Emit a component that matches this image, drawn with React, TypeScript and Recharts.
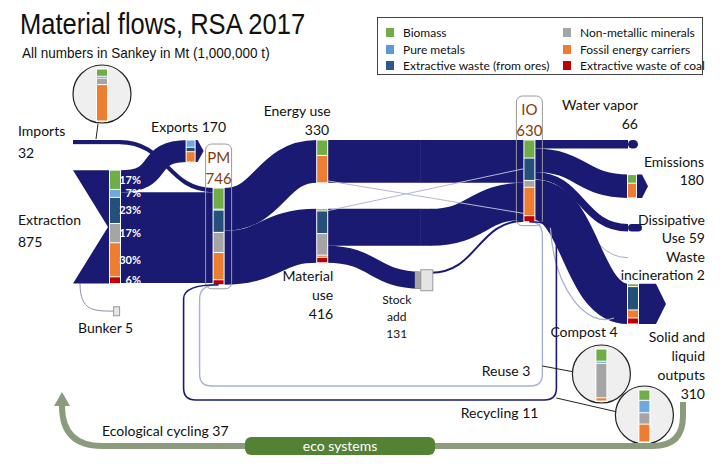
import React from 'react';
import { Sankey } from 'recharts';

// nodes of the Sankey, values in Mt ('' = pass-through of a flow)
const nodeNames = [
  'Imports',
  'Extraction',
  'Exports',
  'PM',
  'Bunker',
  'Energy use',
  'Material use',
  '',
  '',
  'Stock add',
  'IO',
  'Water vapor',
  'Emissions',
  'Dissipative Use',
  'Waste incineration',
  'Solid and liquid outputs',
];
const nodeValues = [32, 875, 170, 746, 5, 330, 416, 330, 285, 131, 630, 66, 180, 59, 2, 310];

// flows (source index -> target index)
const linkSources = [0, 1, 1, 1, 3, 3, 5, 7, 6, 6, 8, 9, 10, 10, 10, 10, 10];
const linkTargets = [3, 2, 3, 4, 5, 6, 7, 10, 8, 9, 10, 10, 11, 12, 13, 14, 15];
const linkValues = [32, 170, 700, 5, 330, 416, 330, 330, 285, 131, 285, 15, 66, 180, 59, 2, 310];

// flows drawn as loops (not part of the Sankey layout)
const loopNames = ['Reuse', 'Recycling', 'Ecological cycling', 'Compost'];
const loopValues = [3, 11, 37, 4];

const categories = [
  'Biomass',
  'Pure metals',
  'Extractive waste (from ores)',
  'Non-metallic minerals',
  'Fossil energy carriers',
  'Extractive waste of coal',
];

// composition shares in %, same order as categories
const compImports = [14, 4, 1, 11, 70, 0];
const compExtraction = [17, 7, 23, 17, 30, 6];
const compExports = [0, 33, 20, 0, 47, 0];
const compPM = [21, 1, 22, 20, 27, 5];
const compEnergyUse = [36, 0, 0, 0, 64, 0];
const compMaterialUse = [4, 0, 42, 40, 4, 10];
const compIO = [21, 0, 26, 8, 33, 7];
const compEmissions = [37, 0, 0, 0, 63, 0];
const compSolidOutputs = [7, 0, 58, 0, 20, 15];
const compReuse = [23, 4, 0, 65, 6, 0];
const compRecycling = [19, 23, 0, 21, 33, 0];

const NAVY = '#1b1a72';
const BROWN = '#843c0c';
const FONT = 'Lato, "Open Sans", sans-serif';
const CAT_COLORS = ['#70ad47', '#6fa8dc', '#24507a', '#a5a5a5', '#ed7d31', '#c00000'];
const LEGEND_COLORS = ['#70ad47', '#5b9bd5', '#2f5597', '#a5a5a5', '#ed7d31', '#c00000'];

const sankeyData = {
  nodes: nodeNames.map((name, i) => ({ name, total: nodeValues[i] })),
  links: linkSources.map((s, i) => ({ source: s, target: linkTargets[i], value: linkValues[i] })),
};

// node positions captured while rendering, used for the loops and insets
const pos: Record<string, { x: number; y: number; w: number; h: number }> = {};

function StackBar({ x, y, w, h, comp }: { x: number; y: number; w: number; h: number; comp: number[] }) {
  const total = comp.reduce((a, b) => a + b, 0);
  let cy = y;
  const rects: React.ReactNode[] = [];
  comp.forEach((v, i) => {
    if (v <= 0) return;
    const sh = (v / total) * h;
    rects.push(
      <rect key={i} x={x} y={cy + 0.5} width={w} height={Math.max(sh - 1, 0.6)} fill={CAT_COLORS[i]} />
    );
    cy += sh;
  });
  return (
    <g>
      <rect x={x - 1} y={y - 1} width={w + 2} height={h + 2} fill="#fff" />
      {rects}
    </g>
  );
}

function Label({
  x,
  y,
  lines,
  anchor = 'start',
  size = 14,
  color = '#111',
  lh = 19,
}: {
  x: number;
  y: number;
  lines: string[];
  anchor?: 'start' | 'middle' | 'end';
  size?: number;
  color?: string;
  lh?: number;
}) {
  return (
    <text x={x} y={y} textAnchor={anchor} fontFamily={FONT} fontSize={size} fill={color}>
      {lines.map((l, i) => (
        <tspan key={i} x={x} dy={i === 0 ? 0 : lh}>
          {l}
        </tspan>
      ))}
    </text>
  );
}

function Inset({ cx, cy, comp }: { cx: number; cy: number; comp: number[] }) {
  return (
    <g>
      <circle cx={cx} cy={cy} r={29} fill="#efefef" stroke="#222" strokeWidth={1.2} />
      <StackBar x={cx - 5} y={cy - 25} w={10} h={52} comp={comp} />
    </g>
  );
}

function Decorations() {
  const pm = pos['PM'];
  const io = pos['IO'];
  const st = pos['Stock add'];
  const ex = pos['Extraction'];
  const so = pos['Solid and liquid outputs'];
  const en = pos['Energy use'];
  const ma = pos['Material use'];
  if (!pm || !io || !st || !ex || !so || !en || !ma) return null;
  const pmB = pm.y + pm.h;
  const ioB = io.y + io.h;
  const soB = so.y + so.h;
  const R = io.x + io.w + 22;
  const Y = Math.max(st.y + st.h + 30, 400);
  const L = pm.x - 30;
  const loop = (r: number, yb: number, l: number) =>
    `M${io.x + io.w / 2},${ioB} Q${r},${ioB} ${r},${ioB + 14} L${r},${yb - 12} Q${r},${yb} ${r - 12},${yb} ` +
    `L${l + 12},${yb} Q${l},${yb} ${l},${yb - 12} L${l},${pmB + 14} Q${l},${pmB} ${pm.x + pm.w / 2},${pmB}`;
  const ecoY = 446;
  const ecoR = so.x + 55;
  const ecoL = ex.x - 48;
  const c0x = io.x + io.w + 16;
  return (
    <g>
      {/* thin cross flows between the use blocks and IO */}
      <line x1={en.x + en.w} y1={en.y + en.h - 2} x2={io.x} y2={io.y + io.h * 0.9} stroke="#b3b8d4" strokeWidth={1} />
      <line x1={ma.x + ma.w} y1={ma.y + 2} x2={io.x} y2={io.y + io.h * 0.35} stroke="#b3b8d4" strokeWidth={1} />
      {/* compost: small loop under the outflow */}
      <path
        d={`M${c0x},${ioB + 6} C${c0x + 4},${ioB + 70} ${so.x - 40},${soB + 4} ${so.x - 14},${soB - 6}`}
        fill="none"
        stroke="#a6adc8"
        strokeWidth={1.2}
      />
      <Label x={so.x - 44} y={soB + 13} lines={[`${loopNames[3]} ${loopValues[3]}`]} anchor="middle" />
      <path d={loop(R - 14, Y - 14, L + 16)} fill="none" stroke="#a9b3cf" strokeWidth={1.4} />
      <path d={loop(R, Y, L)} fill="none" stroke={NAVY} strokeWidth={1.6} />
      <Label x={R - 26} y={Y - 24} lines={[`${loopNames[0]} ${loopValues[0]}`]} anchor="end" />
      <Label x={R - 18} y={Y + 18} lines={[`${loopNames[1]} ${loopValues[1]}`]} anchor="end" />
      <line x1={R - 14} y1={Y - 34} x2={R + 18} y2={Y - 28} stroke="#222" />
      <line x1={R} y1={Y - 2} x2={R + 61} y2={Y + 12} stroke="#222" />
      <Inset cx={R + 45} cy={Y - 26} comp={compReuse} />
      <Inset cx={R + 88} cy={Y + 15} comp={compRecycling} />
      <path
        d={`M${ecoR},${Y + 2} L${ecoR},${ecoY - 30} Q${ecoR},${ecoY} ${ecoR - 30},${ecoY} L${ecoL + 40},${ecoY} Q${ecoL},${ecoY} ${ecoL},${ecoY - 40} L${ecoL},${Y + 2}`}
        fill="none"
        stroke="#8b9c7c"
        strokeWidth={6}
      />
      <polygon points={`${ecoL - 8},${Y + 6} ${ecoL + 8},${Y + 6} ${ecoL},${Y - 8}`} fill="#8b9c7c" />
      <rect x={245} y={ecoY - 9} width={190} height={18} rx={6} fill="#548235" />
      <text x={340} y={ecoY + 5} textAnchor="middle" fontFamily={FONT} fontSize={14} fill="#fff">
        eco systems
      </text>
      <Label x={102} y={ecoY - 10} lines={[`${loopNames[2]} ${loopValues[2]}`]} />
    </g>
  );
}

function renderNode(props: any) {
  const { x, y, width: w, height: h, payload } = props;
  const name: string = payload.name;
  const total: number = payload.total;
  if (name) pos[name] = { x, y, w, h };
  const cx = x + w / 2;
  switch (name) {
    case '':
      return <rect x={x - 0.5} y={y} width={w + 1} height={h} fill={NAVY} />;
    case 'Imports':
      return (
        <g>
          <rect x={x - 37} y={y} width={w + 37} height={h} fill={NAVY} />
          <line x1={x - 14} y1={y - 1} x2={x - 12} y2={y - 16} stroke="#222" />
          <Inset cx={x - 8} cy={y - 46} comp={compImports} />
          <Label x={x - 92} y={y - 4} lines={[name, String(total)]} lh={22} />
        </g>
      );
    case 'Extraction': {
      const pct: React.ReactNode[] = [];
      let cy = y;
      compExtraction.forEach((v, i) => {
        const sh = (v / 100) * h;
        pct.push(
          <text key={i} x={x + w + 21} y={cy + sh / 2 + 4} textAnchor="end" fontFamily={FONT} fontSize={11} fontWeight={700} fill="#fff">
            {v}%
          </text>
        );
        cy += sh;
      });
      return (
        <g>
          <polygon points={`${x - 37},${y} ${x + w},${y} ${x + w},${y + h} ${x - 37},${y + h} ${x - 2},${y + h / 2}`} fill={NAVY} />
          <StackBar x={x} y={y} w={w} h={h} comp={compExtraction} />
          {pct}
          <Label x={x - 92} y={y + h / 2 - 2} lines={[name, String(total)]} lh={22} />
        </g>
      );
    }
    case 'Exports': {
      const ex = x - 27;
      return (
        <g>
          <polygon points={`${ex},${y} ${ex + 11},${y} ${ex + 17},${y + h / 2} ${ex + 11},${y + h} ${ex},${y + h}`} fill={NAVY} />
          <StackBar x={ex} y={y} w={8} h={h} comp={compExports} />
          <Label x={ex + 2} y={y - 8} lines={[`${name} ${total}`]} anchor="middle" />
        </g>
      );
    }
    case 'PM':
    case 'IO':
      return (
        <g>
          <rect x={x - 8} y={y - 44} width={w + 16} height={h + 48} rx={6} fill="none" stroke="#9a9a9a" strokeWidth={1} />
          <StackBar x={x} y={y} w={w} h={h} comp={name === 'PM' ? compPM : compIO} />
          <Label x={cx} y={y - 25} lines={[name, String(total)]} anchor="middle" color={BROWN} size={15} lh={21} />
        </g>
      );
    case 'Bunker': {
      const bx = x - 100;
      return (
        <g>
          <rect x={bx} y={y - 4} width={6} height={9} fill="#e6e6e6" stroke="#999" />
          <Label x={bx - 8} y={y + 22} lines={[`${name} ${total}`]} anchor="middle" />
        </g>
      );
    }
    case 'Energy use':
      return (
        <g>
          <StackBar x={x} y={y} w={w} h={h} comp={compEnergyUse} />
          <Label x={cx - 25} y={y - 24} lines={[name]} anchor="middle" />
          <Label x={x + w + 2} y={y - 5} lines={[String(total)]} anchor="end" />
        </g>
      );
    case 'Material use':
      return (
        <g>
          <StackBar x={x} y={y} w={w} h={h} comp={compMaterialUse} />
          <Label x={x + w + 6} y={y + h + 18} lines={['Material', 'use', String(total)]} anchor="end" />
        </g>
      );
    case 'Stock add':
      return (
        <g>
          <rect x={x - 6} y={y} width={6} height={h} fill={CAT_COLORS[3]} />
          <rect x={x} y={y - 2} width={w + 2} height={h + 4} fill="#e4e4e4" stroke="#9a9a9a" />
          <Label x={x - 24} y={y + h + 15} lines={['Stock', 'add', String(total)]} anchor="middle" size={12} lh={17} />
        </g>
      );
    case 'Water vapor':
      return (
        <g>
          <rect x={x} y={y} width={w} height={h} rx={Math.min(w, h) / 2} fill={NAVY} />
          <Label x={x + w} y={y - 30} lines={[name]} anchor="end" />
          <Label x={x + w} y={y - 11} lines={[String(total)]} anchor="end" />
        </g>
      );
    case 'Emissions':
      return (
        <g>
          <polygon points={`${x},${y} ${x + w + 4},${y} ${x + w + 10},${y + h / 2} ${x + w + 4},${y + h} ${x},${y + h}`} fill={NAVY} />
          <StackBar x={x} y={y} w={w - 2} h={h} comp={compEmissions} />
          <Label x={x + 76} y={y - 8} lines={[name]} anchor="end" />
          <Label x={x + 76} y={y + 10} lines={[String(total)]} anchor="end" />
        </g>
      );
    case 'Dissipative Use':
      return (
        <g>
          <rect x={x} y={y} width={w + 4} height={h} rx={h / 2} fill={NAVY} />
          <Label x={x + 77} y={y + 1} lines={['Dissipative', `Use ${total}`]} anchor="end" lh={18} />
        </g>
      );
    case 'Waste incineration':
      return (
        <g>
          <Label x={x + 77} y={y + 4} lines={['Waste', `incineration ${total}`]} anchor="end" lh={18} />
        </g>
      );
    case 'Solid and liquid outputs':
      return (
        <g>
          <polygon points={`${x},${y} ${x + 28},${y} ${x + 38},${y + h / 2} ${x + 28},${y + h} ${x},${y + h}`} fill={NAVY} />
          <StackBar x={x} y={y} w={w} h={h} comp={compSolidOutputs} />
          <Label x={x + 77} y={y + h + 18} lines={['Solid and', 'liquid', 'outputs', String(total)]} anchor="end" />
          <Decorations />
        </g>
      );
    default:
      return <g />;
  }
}

function nameOf(n: any): string {
  if (typeof n === 'number') return nodeNames[n];
  return n && n.name !== undefined ? n.name : '';
}

function renderLink(props: any) {
  const { sourceX, targetX, sourceY, targetY, sourceControlX, targetControlX, linkWidth, payload } = props;
  const target = nameOf(payload && payload.target);
  const thin = linkWidth < 1.2;
  let tx = targetX;
  let c2 = targetControlX;
  if (target === 'Exports') {
    tx = targetX - 25;
    c2 = targetControlX - 25;
  }
  if (target === 'Bunker') {
    const sx = sourceX - 40;
    const bx = targetX - 100;
    return (
      <path
        d={`M${sx},${sourceY} C${sx},${targetY} ${bx - 20},${targetY} ${bx},${targetY}`}
        fill="none"
        stroke="#8a90b0"
        strokeWidth={1}
      />
    );
  }
  return (
    <path
      d={`M${sourceX},${sourceY} C${sourceControlX},${sourceY} ${c2},${targetY} ${tx},${targetY}`}
      fill="none"
      stroke={thin ? '#a6adc8' : NAVY}
      strokeWidth={thin ? 1 : linkWidth}
    />
  );
}

function Legend() {
  return (
    <div
      style={{
        position: 'absolute',
        left: 377,
        top: 17,
        width: 326,
        height: 58,
        border: '1px solid #444',
        boxSizing: 'border-box',
        fontFamily: FONT,
        fontSize: 12,
        color: '#111',
        background: '#fff',
      }}
    >
      {categories.map((c, i) => {
        const col = i < 3 ? 0 : 1;
        const row = i % 3;
        return (
          <div
            key={c}
            style={{
              position: 'absolute',
              left: col === 0 ? 8 : 185,
              top: 7 + row * 16.5,
              display: 'flex',
              alignItems: 'center',
              whiteSpace: 'nowrap',
            }}
          >
            <span style={{ display: 'inline-block', width: 8, height: 9, background: LEGEND_COLORS[i], marginRight: 9 }} />
            <span>{c}</span>
          </div>
        );
      })}
    </div>
  );
}

export default function App() {
  return (
    <div style={{ position: 'absolute', left: 0, top: 0, width: 727, height: 464, background: '#fff', overflow: 'hidden' }}>
      <div style={{ position: 'absolute', left: 0, top: 0 }}>
        <Sankey
          width={727}
          height={464}
          data={sankeyData}
          node={renderNode}
          link={renderLink}
          nodeWidth={10}
          nodePadding={26}
          iterations={0}
          sort={false}
          linkCurvature={0.5}
          align="left"
          verticalAlign="top"
          margin={{ top: 140, right: 89, bottom: 140, left: 110 }}
        />
      </div>
      <div
        style={{
          position: 'absolute',
          left: 20,
          top: 8,
          fontFamily: '"Liberation Sans", Arial, sans-serif',
          fontSize: 29,
          color: '#111',
          transform: 'scaleX(0.88)',
          transformOrigin: 'left top',
          whiteSpace: 'nowrap',
        }}
      >
        Material flows, RSA 2017
      </div>
      <div
        style={{
          position: 'absolute',
          left: 22,
          top: 44,
          fontFamily: '"Liberation Sans", Arial, sans-serif',
          fontSize: 15,
          color: '#111',
          transform: 'scaleX(0.9)',
          transformOrigin: 'left top',
          whiteSpace: 'nowrap',
        }}
      >
        All numbers in Sankey in Mt (1,000,000 t)
      </div>
      <Legend />
    </div>
  );
}
